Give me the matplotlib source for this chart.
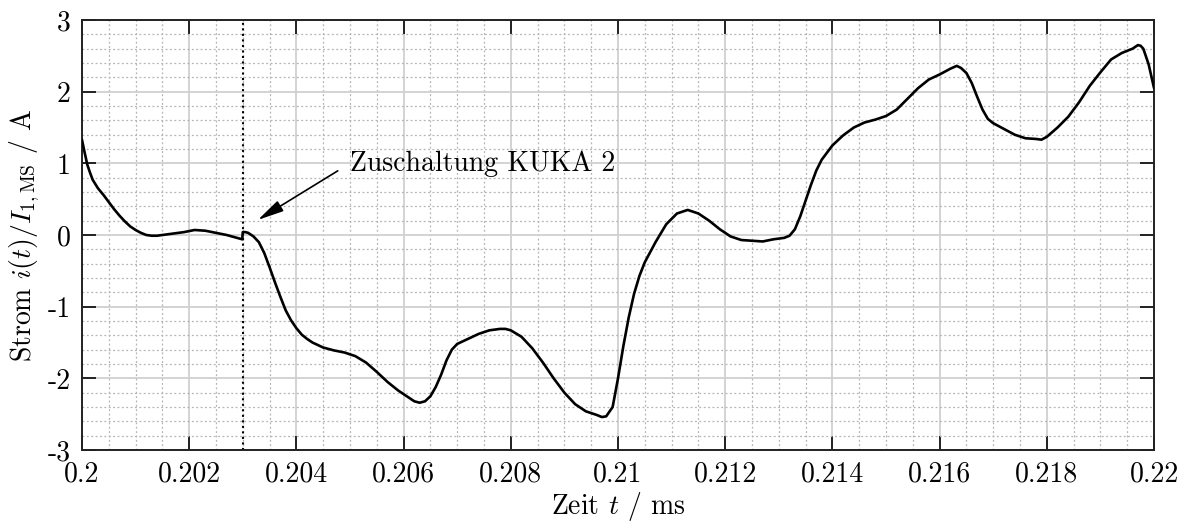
import matplotlib
matplotlib.use("Agg")
import matplotlib.pyplot as plt
from matplotlib.ticker import MultipleLocator

plt.rcParams["font.family"] = "serif"
plt.rcParams["font.serif"] = ["cmr10", "DejaVu Serif"]
plt.rcParams["mathtext.fontset"] = "cm"
plt.rcParams["axes.unicode_minus"] = False
plt.rcParams["axes.formatter.use_mathtext"] = True

# Stromverlauf (t in ms, i in A)
t_ms = [0.2000, 0.20005, 0.2001, 0.20015, 0.2002, 0.2003, 0.2004, 0.2005,
        0.2006, 0.2007, 0.2008, 0.2009, 0.2010, 0.2011, 0.2012, 0.2013,
        0.2014, 0.2015, 0.2017, 0.2019, 0.2021, 0.2023, 0.2025, 0.2027,
        0.20299,
        0.2030, 0.20305, 0.2031, 0.2032, 0.2033, 0.2034, 0.2035, 0.2036,
        0.2037, 0.2038, 0.2039, 0.2040, 0.2041, 0.2042, 0.2043, 0.2045,
        0.2047, 0.2049, 0.2051, 0.2053, 0.2055, 0.2057, 0.2059, 0.2061,
        0.2062, 0.2063, 0.2064, 0.2065, 0.2066, 0.2067, 0.2068, 0.2069,
        0.2070, 0.2072, 0.2074, 0.2076, 0.2078, 0.2079, 0.2080, 0.2082,
        0.2084, 0.2086, 0.2088, 0.2090, 0.2092, 0.2094, 0.2096, 0.2097,
        0.20978, 0.2099, 0.2100, 0.2101, 0.2102, 0.2103, 0.2104, 0.2105,
        0.2107, 0.2109, 0.2111, 0.2113, 0.2115, 0.2117, 0.2119, 0.2121,
        0.2123, 0.2125, 0.2127, 0.2129, 0.2131, 0.2132, 0.2133, 0.2134,
        0.2135, 0.2136, 0.2137, 0.2138, 0.2140, 0.2142, 0.2144, 0.2146,
        0.2148, 0.2150, 0.2152, 0.2154, 0.2156, 0.2158, 0.2160, 0.2162,
        0.21632, 0.2164, 0.2165, 0.2166, 0.2167, 0.2168, 0.2169, 0.2170,
        0.2172, 0.2174, 0.2176, 0.2178, 0.2179, 0.2180, 0.2182, 0.2184,
        0.2186, 0.2188, 0.2190, 0.2192, 0.2194, 0.2196, 0.2197, 0.21975,
        0.2198, 0.2199, 0.2200]
i_a = [1.33, 1.15, 0.98, 0.87, 0.77, 0.65, 0.56, 0.46,
       0.36, 0.27, 0.19, 0.12, 0.07, 0.03, 0.00, -0.01,
       -0.01, 0.00, 0.02, 0.04, 0.07, 0.06, 0.03, 0.00,
       -0.06,
       0.04, 0.04, 0.03, -0.02, -0.10, -0.25, -0.45, -0.66,
       -0.86, -1.05, -1.19, -1.30, -1.39, -1.45, -1.50, -1.57,
       -1.61, -1.64, -1.69, -1.78, -1.91, -2.05, -2.17, -2.27,
       -2.32, -2.34, -2.32, -2.25, -2.12, -1.95, -1.75, -1.60,
       -1.52, -1.45, -1.38, -1.33, -1.31, -1.31, -1.33, -1.42,
       -1.58, -1.78, -2.00, -2.20, -2.36, -2.46, -2.51, -2.54,
       -2.53, -2.40, -2.00, -1.55, -1.15, -0.82, -0.57, -0.38,
       -0.10, 0.15, 0.30, 0.35, 0.30, 0.20, 0.08, -0.02,
       -0.07, -0.08, -0.09, -0.06, -0.04, -0.01, 0.08, 0.26,
       0.48, 0.70, 0.90, 1.05, 1.25, 1.39, 1.50, 1.57,
       1.61, 1.66, 1.75, 1.90, 2.05, 2.17, 2.24, 2.32,
       2.36, 2.33, 2.26, 2.12, 1.93, 1.75, 1.62, 1.56,
       1.48, 1.40, 1.35, 1.34, 1.33, 1.37, 1.50, 1.65,
       1.85, 2.08, 2.27, 2.45, 2.54, 2.60, 2.65, 2.64,
       2.60, 2.38, 2.05]

t_switch = 0.203
x_ticks = [0.2, 0.202, 0.204, 0.206, 0.208, 0.21, 0.212, 0.214, 0.216, 0.218, 0.22]
x_labels = ["0.2", "0.202", "0.204", "0.206", "0.208", "0.21", "0.212",
            "0.214", "0.216", "0.218", "0.22"]
y_ticks = [-3, -2, -1, 0, 1, 2, 3]
y_labels = ["-3", "-2", "-1", "0", "1", "2", "3"]

fig = plt.figure(figsize=(11.88, 5.29), dpi=100)
ax = fig.add_axes([0.069, 0.1493, 0.9024, 0.8129])

ax.plot(t_ms, i_a, color="black", linewidth=1.9, zorder=3,
        solid_joinstyle="round", solid_capstyle="round")
ax.axvline(t_switch, color="black", linestyle=":", linewidth=1.5, zorder=2)

ax.annotate("Zuschaltung KUKA 2", xy=(0.20328, 0.21), xytext=(0.2050, 1.0),
            ha="left", va="center", fontsize=20,
            arrowprops=dict(arrowstyle="-|>,head_length=0.8,head_width=0.18",
                            color="black", linewidth=1.2, relpos=(0, 0.5),
                            shrinkA=8, shrinkB=0, mutation_scale=20))

ax.set_xlim(0.2, 0.22)
ax.set_ylim(-3, 3)
ax.set_xticks(x_ticks)
ax.set_xticklabels(x_labels)
ax.set_yticks(y_ticks)
ax.set_yticklabels(y_labels)
ax.xaxis.set_minor_locator(MultipleLocator(0.0005))
ax.yaxis.set_minor_locator(MultipleLocator(0.2))

ax.grid(which="major", color="#d0d0d0", linewidth=1.3, linestyle="-")
ax.grid(which="minor", color="#b4b4b4", linewidth=0.9, linestyle=(0, (1.5, 2)))
ax.set_axisbelow(True)

ax.tick_params(which="major", direction="in", length=10, width=1.4,
               top=True, right=True, labelsize=20, pad=8, color="#222222")
ax.tick_params(which="minor", length=0, top=True, right=True)
for s in ax.spines.values():
    s.set_linewidth(1.4)
    s.set_color("#222222")

ax.set_xlabel("Zeit $t$ / ms", fontsize=20, labelpad=2)
ax.set_ylabel("Strom $i(t)/I_{1,\\mathrm{MS}}$ / A", fontsize=20, labelpad=4)

fig.savefig("out.png", dpi=100)
